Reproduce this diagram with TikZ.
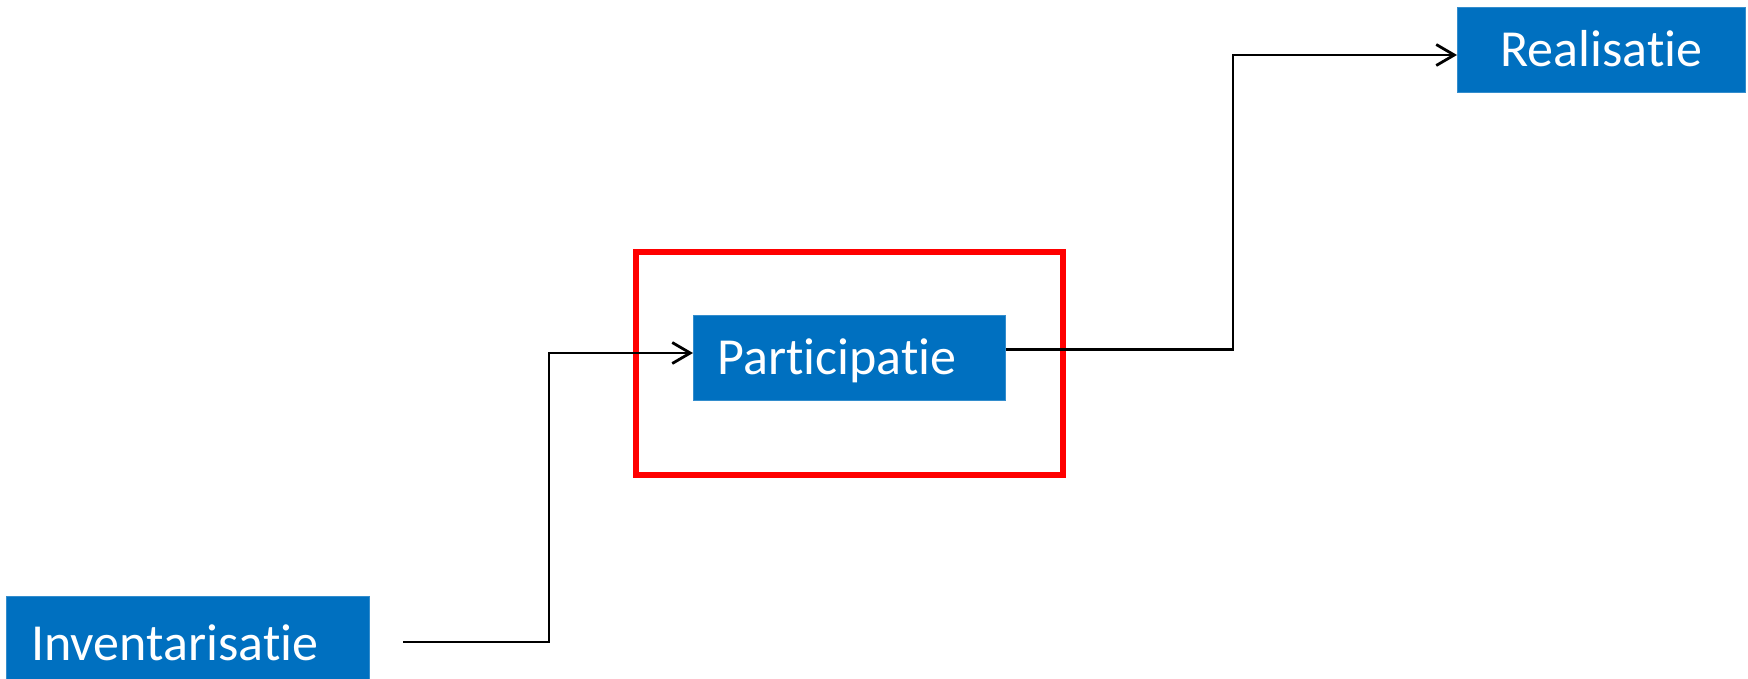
\documentclass[tikz,border=0pt]{standalone}
\usepackage{fontspec}
\setmainfont{Carlito}[Ligatures={NoCommon}]
\usetikzlibrary{arrows.meta}
\definecolor{boxblue}{HTML}{0070C0}
\definecolor{framered}{HTML}{FF0000}
\tikzset{
  phasebox/.style={rectangle, fill=boxblue, draw=boxblue!80!white, line width=0.8pt, anchor=north west,
    text=white, font=\fontsize{52}{62}\selectfont, text height=34pt, text depth=0pt,
    inner ysep=0pt, minimum height=85pt},
  conn/.style={line width=2.8pt, black, line cap=butt},
  arrowconn/.style={conn, -{Straight Barb[length=18pt,width=21pt]}},
  redframe/.style={draw=framered, line width=6pt}
}
\begin{document}
\begin{tikzpicture}[x=1pt,y=-1pt]
\useasboundingbox (0,0) rectangle (1748,678);
\fill[white] (0,0) rectangle (1748,678);
% boxes
\node[phasebox, minimum width=363pt, minimum height=94pt, inner xsep=25pt, text width=313pt, align=left] (inv) at (6,596) {Inventarisatie};
\node[phasebox, minimum width=312pt, inner xsep=24pt, text width=264pt, align=left] (part) at (693,315) {Participatie};
\node[phasebox, minimum width=288pt, inner xsep=10pt, text width=268pt, align=center] (real) at (1457,7) {Realisatie};
% red frame
\draw[redframe] (636,251.5) rectangle (1063,474.5);
% connectors
\coordinate (s1) at (403,642);
\coordinate (k1) at (549,353);
\draw[arrowconn] (s1) -| (k1) -- (k1 -| part.west);
\coordinate (k2) at (1233,55);
\coordinate (s2) at ([yshift=8.5pt]part.east);
\draw[arrowconn] (s2) -| (k2) -- (k2 -| real.west);
\end{tikzpicture}
\end{document}
